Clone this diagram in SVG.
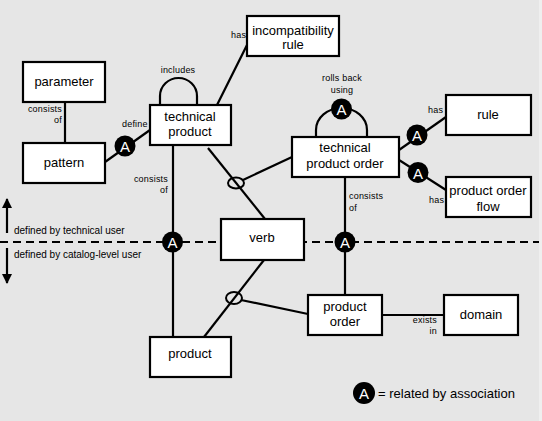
<svg xmlns="http://www.w3.org/2000/svg" width="542" height="421" viewBox="0 0 542 421">
<defs>
<style>
.box{fill:#fff;stroke:#000;stroke-width:2.2}
.ln{fill:none;stroke:#000;stroke-width:2.2}
.t{font-family:"Liberation Sans",Arial,sans-serif;font-size:13px;fill:#000;text-anchor:middle}
.s{font-family:"Liberation Sans",Arial,sans-serif;font-size:9px;fill:#000;letter-spacing:0.2px}
.ac{fill:#000}
.at{font-family:"Liberation Sans",Arial,sans-serif;font-size:15px;fill:#fff;text-anchor:middle}
.nil{fill:none;stroke:#000;stroke-width:2}
</style>
<marker id="ah" viewBox="0 0 10 10" refX="9" refY="5" markerWidth="10" markerHeight="10" markerUnits="userSpaceOnUse" orient="auto">
<path d="M0,0 L10,5 L0,10 z" fill="#000"/>
</marker>
</defs>
<rect x="0" y="0" width="542" height="421" fill="#e6e6e6"/>
<rect x="539" y="0" width="3" height="421" fill="#efefef"/>

<g id="connectors">
<line class="ln" x1="0" y1="242" x2="539" y2="242" stroke-dasharray="8 5"/>
<line class="ln" x1="65" y1="102" x2="65" y2="143"/>
<line class="ln" x1="105" y1="162" x2="150" y2="130"/>
<path class="ln" d="M160,105 L160,96 A18.5,18 0 0 1 197,96 L197,105"/>
<line class="ln" x1="217" y1="105" x2="247" y2="45"/>
<line class="ln" x1="173" y1="145" x2="173" y2="337"/>
<line class="ln" x1="208" y1="148" x2="265" y2="219"/>
<line class="ln" x1="243" y1="180" x2="292" y2="157"/>
<line class="ln" x1="264" y1="260" x2="204" y2="337"/>
<line class="ln" x1="241" y1="300" x2="308" y2="314"/>
<path class="ln" d="M316,137 L316,130 A25.5,22 0 0 1 367,130 L367,137"/>
<line class="ln" x1="399" y1="150" x2="446" y2="117"/>
<line class="ln" x1="399" y1="160" x2="446" y2="190"/>
<line class="ln" x1="345" y1="177" x2="345" y2="295"/>
<line class="ln" x1="382" y1="315" x2="444" y2="315"/>
<line class="ln" x1="7" y1="233" x2="7" y2="199" marker-end="url(#ah)"/>
<line class="ln" x1="7" y1="248" x2="7" y2="283" marker-end="url(#ah)"/>
<ellipse class="nil" cx="236" cy="183" rx="8" ry="5.5"/>
<ellipse class="nil" cx="234" cy="298" rx="8" ry="6"/>
</g>

<g id="labels">
<text class="s" x="62" y="112" text-anchor="end">consists</text>
<text class="s" x="62" y="123" text-anchor="end">of</text>
<text class="s" x="122" y="127">define</text>
<text class="s" x="178" y="73" text-anchor="middle">includes</text>
<text class="s" x="231" y="38">has</text>
<text class="s" x="168" y="182" text-anchor="end">consists</text>
<text class="s" x="168" y="193" text-anchor="end">of</text>
<text class="s" x="342" y="81" text-anchor="middle">rolls back</text>
<text class="s" x="342" y="93" text-anchor="middle">using</text>
<text class="s" x="428" y="113">has</text>
<text class="s" x="429" y="203">has</text>
<text class="s" x="349" y="199">consists</text>
<text class="s" x="349" y="211">of</text>
<text class="s" x="437" y="323" text-anchor="end">exists</text>
<text class="s" x="437" y="334" text-anchor="end">in</text>
<text class="s" x="14" y="234" style="font-size:10px;letter-spacing:0">defined by technical user</text>
<text class="s" x="14" y="258" style="font-size:10px;letter-spacing:0">defined by catalog-level user</text>
</g>

<g id="parameter"><rect class="box" x="23" y="62" width="82" height="40"/><text class="t" x="64" y="86">parameter</text></g>
<g id="pattern"><rect class="box" x="23" y="143" width="82" height="40"/><text class="t" x="64" y="167">pattern</text></g>
<g id="technical-product"><rect class="box" x="150" y="105" width="81" height="40"/><text class="t" x="190" y="121">technical</text><text class="t" x="190" y="136">product</text></g>
<g id="incompatibility-rule"><rect class="box" x="247" y="16" width="92" height="40"/><text class="t" x="293" y="35">incompatibility</text><text class="t" x="293" y="49">rule</text></g>
<g id="technical-product-order"><rect class="box" x="292" y="137" width="107" height="40"/><text class="t" x="345" y="152">technical</text><text class="t" x="345" y="168">product order</text></g>
<g id="rule"><rect class="box" x="446" y="95" width="85" height="40"/><text class="t" x="488" y="119">rule</text></g>
<g id="product-order-flow"><rect class="box" x="446" y="177" width="85" height="40"/><text class="t" x="488" y="195">product order</text><text class="t" x="488" y="211">flow</text></g>
<g id="verb"><rect class="box" x="221" y="219" width="83" height="41"/><text class="t" x="262" y="242">verb</text></g>
<g id="product"><rect class="box" x="150" y="337" width="81" height="40"/><text class="t" x="190" y="358">product</text></g>
<g id="product-order"><rect class="box" x="308" y="295" width="74" height="40"/><text class="t" x="345" y="311">product</text><text class="t" x="345" y="326">order</text></g>
<g id="domain"><rect class="box" x="444" y="295" width="74" height="40"/><text class="t" x="481" y="319">domain</text></g>

<g id="assoc-define"><circle class="ac" cx="125" cy="146" r="10.5"/><text class="at" x="125" y="152">A</text></g>
<g id="assoc-rollback"><circle class="ac" cx="341.5" cy="109" r="10.5"/><text class="at" x="341.5" y="115">A</text></g>
<g id="assoc-rule"><circle class="ac" cx="417" cy="135" r="10.5"/><text class="at" x="417" y="141">A</text></g>
<g id="assoc-flow"><circle class="ac" cx="418" cy="172.5" r="10.5"/><text class="at" x="418" y="178.5">A</text></g>
<g id="assoc-product"><circle class="ac" cx="172.5" cy="242" r="10.5"/><text class="at" x="172.5" y="248">A</text></g>
<g id="assoc-product-order"><circle class="ac" cx="345" cy="242" r="10.5"/><text class="at" x="345" y="248">A</text></g>

<g id="legend"><circle class="ac" cx="364" cy="393" r="11"/><text class="at" x="364" y="399">A</text><text x="378" y="398" style="font-family:'Liberation Sans',Arial,sans-serif;font-size:13px">= related by association</text></g>
</svg>
